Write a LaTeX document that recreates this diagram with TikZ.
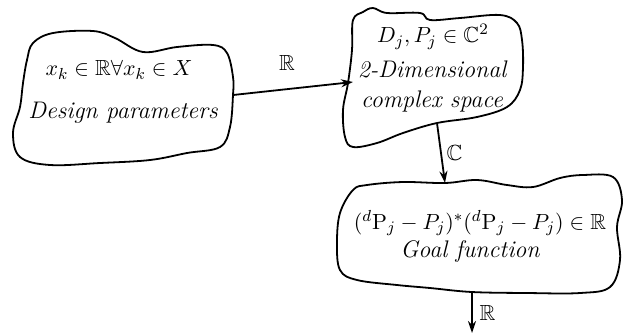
\documentclass[tikz,border=0pt]{standalone}
\usepackage{amsmath,amssymb}
\usetikzlibrary{arrows.meta}

\begin{document}
\begin{tikzpicture}[x=0.5pt,y=-0.5pt,
    blob/.style={draw,line width=0.9pt,smooth cycle,tension=0.6},
    lbl/.style={font=\fontsize{10.95}{14}\selectfont,align=center},
    txt/.style={font=\fontsize{12}{15}\selectfont\itshape,align=center},
    flow/.style={-{Stealth[length=6pt,width=4pt]},line width=0.9pt}]
\useasboundingbox (0,0) rectangle (625,334);
% blobs
\draw[blob] plot coordinates {(27,60) (33,43) (53,33) (93,31) (115,38) (143,52) (177,47) (213,45) (227,53) (233,77) (233,95) (230,127) (220,147) (187,153) (150,160) (100,163) (50,165) (20,157) (13,133) (20,107) (23,83)};
\draw[blob] plot coordinates {(353,20) (363,12) (373,8) (387,13) (420,13) (430,20) (460,18) (500,15) (517,23) (522,40) (523,67) (520,90) (507,107) (477,117) (437,123) (403,133) (377,143) (353,147) (345,137) (343,110) (348,83) (352,50)};
\draw[blob] plot coordinates {(353,190) (367,185) (403,182) (445,183) (477,180) (507,185) (533,187) (560,178) (583,175) (613,177) (622,200) (617,227) (620,260) (610,287) (580,293) (527,293) (472,292) (430,288) (397,285) (357,280) (340,270) (337,243) (340,213)};
% texts
\node[lbl] (xk) at (119,70) {$x_k\in\mathbb{R}\forall x_k\in X$};
\node[txt] (design) at (123,113) {Design parameters};
\node[lbl] (dp) at (433,37) {$D_j,P_j\in\mathbb{C}^2$};
\node[txt] (cspace) at (432,86) {2-Dimensional\\complex space};
\node[lbl] (gf) at (480,223) {$({}^{d}\mathrm{P}_j-P_j)^{*}({}^{d}\mathrm{P}_j-P_j)\in\mathbb{R}$};
\node[txt] (goal) at (470,251) {Goal function};
% connectors
\coordinate (design-out) at (233,95);
\coordinate (cspace-in) at (353,82);
\coordinate (cspace-out) at (437,123);
\coordinate (goal-in) at (445,183);
\coordinate (goal-out) at (472,292);
\coordinate (end) at (472,333);
\draw[flow] (design-out) -- node[above=5pt,xshift=-3pt,lbl] {$\mathbb{R}$} (cspace-in);
\draw[flow] (cspace-out) -- node[right=-1pt,lbl] {$\mathbb{C}$} (goal-in);
\draw[flow] (goal-out) -- node[right=0pt,lbl] {$\mathbb{R}$} (end);
\end{tikzpicture}
\end{document}
